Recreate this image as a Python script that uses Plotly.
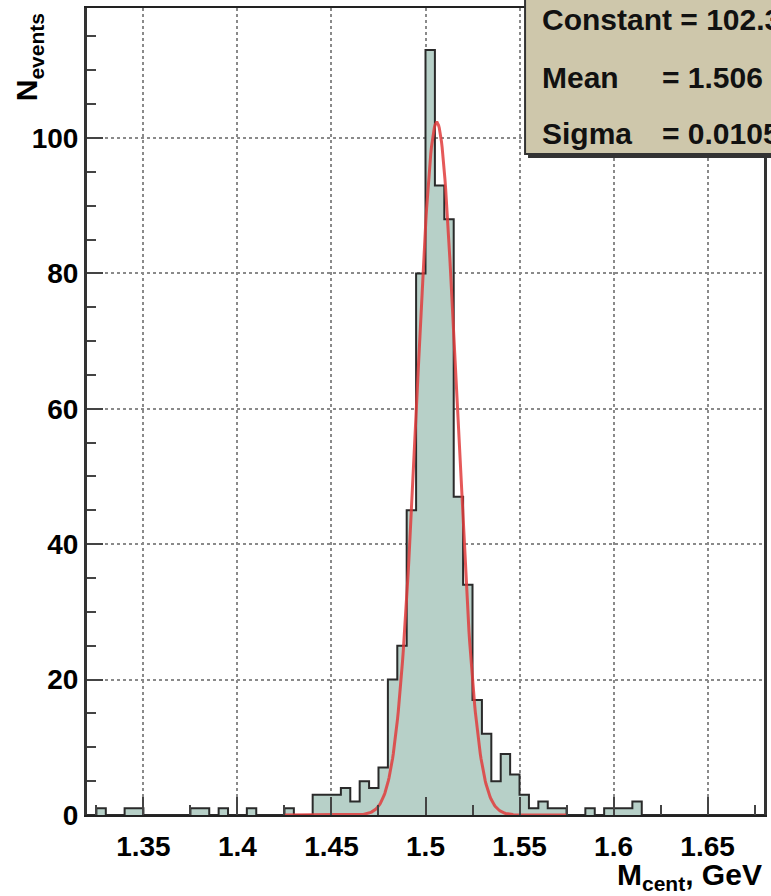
import numpy as np
import plotly.graph_objects as go

# ---- data ----
bin_start = 1.32
bin_width = 0.005
counts = [0, 1, 0, 0, 1, 1, 0, 0, 0, 0,
          0, 1, 1, 0, 1, 0, 0, 1, 0, 0,
          0, 1, 0, 0, 3, 3, 3, 4, 2, 5,
          4, 7, 20, 25, 45, 80, 113, 93, 88, 47,
          34, 17, 12, 5, 9, 6, 3, 1, 2, 1,
          1, 0, 0, 1, 0, 1, 1, 1, 2, 0,
          0, 0, 0, 0, 0, 0, 0, 0, 0, 0,
          0, 0]
fit_constant = 102.3
fit_mean = 1.506
fit_sigma = 0.0105
fit_range = [1.425, 1.575]
x_ticks = [1.35, 1.4, 1.45, 1.5, 1.55, 1.6, 1.65]
x_tick_labels = ["1.35", "1.4", "1.45", "1.5", "1.55", "1.6", "1.65"]
y_ticks = [0, 20, 40, 60, 80, 100]
stats_labels = ["Constant = 102.3", "Mean", "Sigma"]
stats_values = ["", "= 1.506", "= 0.0105"]

# ---- derived ----
n = len(counts)
edges = [bin_start + i * bin_width for i in range(n + 1)]
centers = [bin_start + (i + 0.5) * bin_width for i in range(n)]
fx = np.linspace(fit_range[0], fit_range[1], 400)
fy = fit_constant * np.exp(-0.5 * ((fx - fit_mean) / fit_sigma) ** 2)

W, H = 771, 896
L, R, T, B = 87, 4, 8, 81
pw, ph = W - L - R, H - T - B

def px(xp):
    return (xp - L) / pw

def py(yp):
    return (H - B - yp) / ph

FONT = "Liberation Sans, Arial, sans-serif"

fig = go.Figure()
fig.add_trace(go.Bar(x=centers, y=counts, width=bin_width,
                     marker=dict(color="#b7d0c8", line=dict(width=0)),
                     hoverinfo="skip"))
fig.add_trace(go.Scatter(x=edges, y=counts + [counts[-1]], mode="lines",
                         line=dict(color="#2a2a2a", width=2, shape="hv"),
                         hoverinfo="skip"))
fig.add_trace(go.Scatter(x=fx, y=fy, mode="lines",
                         line=dict(color="rgba(225,60,60,0.85)", width=3),
                         hoverinfo="skip"))

fig.update_layout(
    width=W, height=H, showlegend=False,
    margin=dict(l=L, r=R, t=T, b=B, pad=0),
    paper_bgcolor="white", plot_bgcolor="white",
    bargap=0, font=dict(family=FONT, color="black", size=28, weight="bold"),
)
fig.update_xaxes(range=[1.32, 1.68], tickvals=x_ticks, ticktext=x_tick_labels,
                 showgrid=True, gridcolor="#8a8a8a", griddash="dot", gridwidth=1.5,
                 showline=True, linecolor="#222", linewidth=2, mirror=True,
                 ticks="inside", ticklen=18, tickcolor="#444", tickwidth=1.5,
                 ticklabelstandoff=5,
                 minor=dict(dtick=0.025, tick0=1.325, ticks="inside", ticklen=10,
                            tickcolor="#444", showgrid=False),
                 tickfont=dict(size=28, family=FONT, weight="bold"), zeroline=False)
fig.update_yaxes(range=[0, 119.2], tickvals=y_ticks,
                 showgrid=True, gridcolor="#8a8a8a", griddash="dot", gridwidth=1.5,
                 showline=True, linecolor="#333", linewidth=3, mirror=True,
                 ticks="inside", ticklen=16, tickcolor="#444", tickwidth=1.5,
                 minor=dict(dtick=5, ticks="inside", ticklen=9,
                            tickcolor="#444", showgrid=False),
                 tickfont=dict(size=28, family=FONT, weight="bold"), zeroline=False)

# stats box
fig.add_shape(type="rect", xref="paper", yref="paper",
              x0=px(530), x1=px(800), y0=py(158), y1=py(-10),
              fillcolor="#333333", line=dict(width=0), layer="above")
fig.add_shape(type="rect", xref="paper", yref="paper",
              x0=px(527), x1=px(800), y0=py(154), y1=py(-10),
              fillcolor="#cec7ab", line=dict(color="#333", width=2), layer="above")
rows_y = [19, 77, 134]
for lab, val, yy in zip(stats_labels, stats_values, rows_y):
    fig.add_annotation(x=px(542), y=py(yy), xref="paper", yref="paper",
                       text=lab, showarrow=False, xanchor="left", yanchor="middle",
                       font=dict(size=30, family=FONT, color="#111", weight="bold"))
    if val:
        fig.add_annotation(x=px(663), y=py(yy), xref="paper", yref="paper",
                           text=val, showarrow=False, xanchor="left", yanchor="middle",
                           font=dict(size=30, family=FONT, color="#111", weight="bold"))

# axis titles
fig.add_annotation(x=px(28), y=py(11), xref="paper", yref="paper",
                   text="N<sub>events</sub>", textangle=-90, showarrow=False,
                   xanchor="center", yanchor="top",
                   font=dict(size=30, family=FONT, color="black", weight="bold"))
fig.add_annotation(x=px(767), y=py(876), xref="paper", yref="paper",
                   text="M<sub>cent</sub>, GeV", showarrow=False,
                   xanchor="right", yanchor="middle",
                   font=dict(size=30, family=FONT, color="black", weight="bold"))

fig.write_html("out.html")
